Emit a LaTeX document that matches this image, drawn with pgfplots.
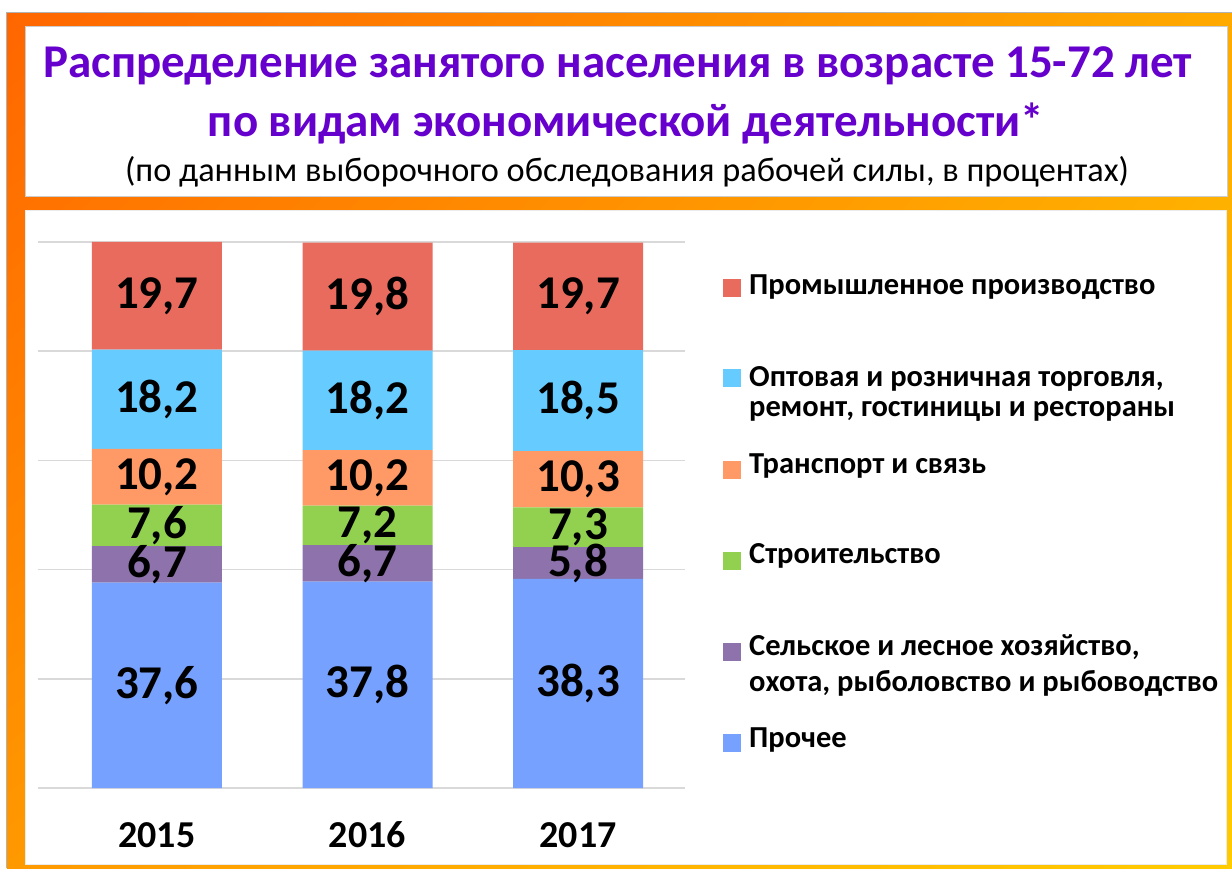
\documentclass[border=0pt]{standalone}
\usepackage{pgfplots}
\pgfplotsset{compat=1.18}
\usepackage{pgfplotstable}
\usetikzlibrary{shadings}
\usepackage{fontspec}
\setmainfont{Carlito}
\definecolor{cProm}{HTML}{E96B5E}
\definecolor{cTorg}{HTML}{66CCFF}
\definecolor{cTrans}{HTML}{FF9966}
\definecolor{cStr}{HTML}{92D050}
\definecolor{cSel}{HTML}{8D72AB}
\definecolor{cPro}{HTML}{77A1FF}
\definecolor{ctitle}{HTML}{6600CC}
\definecolor{oUL}{HTML}{FF6600}
\definecolor{oUR}{HTML}{FFAA00}
\definecolor{oLL}{HTML}{FF9900}
\definecolor{oLR}{HTML}{FFCC00}
\pgfplotstableread{
x pro sel str trans torg prom
0 37.6 6.7 7.6 10.2 18.2 19.7
1 37.8 6.7 7.2 10.2 18.2 19.8
2 38.3 5.8 7.3 10.3 18.5 19.7
}\datatab
\begin{document}
\begin{tikzpicture}
\begin{scope}[x=1pt,y=1pt]
\useasboundingbox (0,0) rectangle (1232,868);
\fill[black!30] (5.5,0) rectangle (1232,855.5);
\shade[upper left=oUL, upper right=oUR, lower left=oLL, lower right=oLR] (7,0) rectangle (1232,854);
\filldraw[fill=white, draw=black!20, line width=1pt] (25,671) rectangle (1227,841);
\filldraw[fill=white, draw=black!8, line width=0.8pt] (25,4) rectangle (1226,658);
\node[anchor=base, text=ctitle, font=\bfseries\fontsize{47}{47}\selectfont, inner sep=0pt] at (618,790) {Распределение занятого населения в возрасте 15-72 лет};
\node[anchor=base, text=ctitle, font=\bfseries\fontsize{47}{47}\selectfont, inner sep=0pt] at (626,731) {по видам экономической деятельности*};
\node[anchor=base, font=\fontsize{34.3}{34.3}\selectfont, inner sep=0pt] at (627,686) {(по данным выборочного обследования рабочей силы, в процентах)};
\end{scope}
\begin{axis}[
  at={(38pt,80pt)}, anchor=south west, scale only axis,
  width=647pt, height=546pt,
  ybar stacked, bar width=130pt,
  ymin=0, ymax=100, xmin=-0.565, xmax=2.508,
  ytick={0,20,...,100}, yticklabels={},
  ymajorgrids, grid style={draw=black!15, line width=1.5pt},
  axis line style={draw=none}, major tick style={draw=none},
  xtick=data, xticklabels={2015,2016,2017},
  xticklabel style={anchor=base, yshift=-59pt, font=\bfseries\fontsize{38}{38}\selectfont},
  point meta=explicit,
  /pgf/number format/assume math mode=true,
  nodes near coords={\pgfmathprintnumber[fixed,fixed zerofill,precision=1,use comma]{\pgfplotspointmeta}},
  every node near coord/.style={anchor=center, font=\bfseries\fontsize{47}{47}\selectfont, text=black, inner sep=0pt},
]
\addplot[fill=cPro, draw=none] table[x=x, y=pro, meta=pro] {\datatab};
\addplot[fill=cSel, draw=none] table[x=x, y=sel, meta=sel] {\datatab};
\addplot[fill=cStr, draw=none] table[x=x, y=str, meta=str] {\datatab};
\addplot[fill=cTrans, draw=none] table[x=x, y=trans, meta=trans] {\datatab};
\addplot[fill=cTorg, draw=none] table[x=x, y=torg, meta=torg] {\datatab};
\addplot[fill=cProm, draw=none] table[x=x, y=prom, meta=prom] {\datatab};
\end{axis}
% legend
\begin{scope}[x=1pt,y=1pt,every node/.style={anchor=base west, inner sep=0pt, font=\bfseries\fontsize{30.5}{30.5}\selectfont}]
\fill[cProm] (723,571) rectangle (741,589);
\node at (749,573) {Промышленное производство};
\fill[cTorg] (723,481) rectangle (741,499);
\node at (749,481) {Оптовая и розничная торговля,};
\node at (749,451) {ремонт, гостиницы и рестораны};
\fill[cTrans] (723,389) rectangle (741,407);
\node at (749,394) {Транспорт и связь};
\fill[cStr] (723,298) rectangle (741,316);
\node at (749,304) {Строительство};
\fill[cSel] (723,207) rectangle (741,225);
\node at (749,212) {Сельское и лесное хозяйство,};
\node at (749,176) {охота, рыболовство и рыбоводство};
\fill[cPro] (723,116) rectangle (741,134);
\node at (749,121) {Прочее};
\end{scope}
\end{tikzpicture}
\end{document}
